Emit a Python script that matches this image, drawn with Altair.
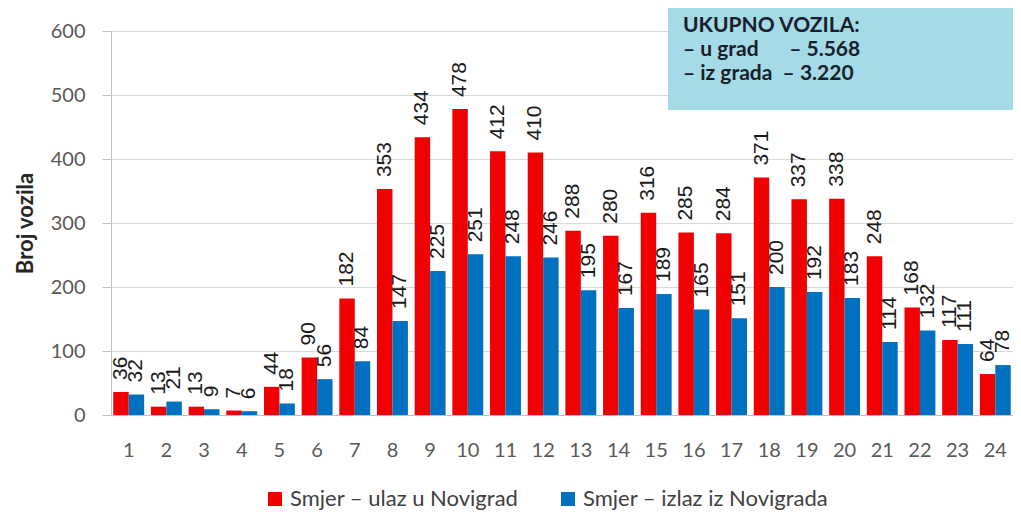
import altair as alt
import pandas as pd

hours = [str(h) for h in range(1, 25)]
ulaz = [36, 13, 13, 7, 44, 90, 182, 353, 434, 478, 412, 410, 288, 280, 316, 285, 284, 371, 337, 338, 248, 168, 117, 64]
izlaz = [32, 21, 9, 6, 18, 56, 84, 147, 225, 251, 248, 246, 195, 167, 189, 165, 151, 200, 192, 183, 114, 132, 111, 78]
series = ["Smjer – ulaz u Novigrad", "Smjer – izlaz iz Novigrada"]
colors = ["#f00000", "#0070c0"]
NB = "\u00a0"
box_text = "UKUPNO VOZILA:\n– u grad" + NB * 6 + "– 5.568\n– iz grada" + NB * 2 + "– 3.220"

rows = []
for h, a, b in zip(hours, ulaz, izlaz):
    rows.append({"Sat": h, "Smjer": series[0], "Vozila": a})
    rows.append({"Sat": h, "Smjer": series[1], "Vozila": b})
df = pd.DataFrame(rows)

x_enc = alt.X("Sat:N", sort=hours, title=None,
              scale=alt.Scale(paddingInner=0.18, paddingOuter=0.06),
              axis=alt.Axis(labelAngle=0, ticks=False, labelPadding=25, labelFont="Lato",
                            labelFontSize=20, labelColor="#595959", domainColor="#bfbfbf",
                            grid=False))
xo_enc = alt.XOffset("Smjer:N", sort=series, scale=alt.Scale(paddingInner=0, paddingOuter=0))
y_enc = alt.Y("Vozila:Q", title="Broj vozila",
              scale=alt.Scale(domain=[0, 600], nice=False),
              axis=alt.Axis(values=[0, 100, 200, 300, 400, 500, 600], labelFont="Lato",
                            labelFontSize=20, labelColor="#595959", tickColor="#bfbfbf",
                            tickSize=9, labelPadding=17, domainColor="#bfbfbf",
                            gridColor="#d9d9d9", titleFont="Lato", titleFontSize=22,
                            titleFontWeight="bold", titleColor="#262626", titlePadding=13))

base = alt.Chart(df)

bars = base.mark_bar().encode(
    x=x_enc, xOffset=xo_enc, y=y_enc,
    color=alt.Color("Smjer:N", sort=series, title=None,
                    scale=alt.Scale(domain=series, range=colors),
                    legend=alt.Legend(orient="none", legendX=153, legendY=457,
                                      direction="horizontal", symbolType="square",
                                      symbolSize=196, symbolStrokeWidth=0,
                                      labelFont="Lato", labelFontSize=22,
                                      labelColor="#404040", columnPadding=38,
                                      labelLimit=400)),
)

labels = base.mark_text(angle=270, align="left", baseline="middle", dx=12,
                        font="Liberation Sans", fontSize=21, color="#1a1a1a").encode(
    x=x_enc, xOffset=xo_enc, y=y_enc, text="Vozila:Q"
)

box_df = pd.DataFrame({"t": [box_text]})
box = alt.Chart(box_df).mark_rect(color="#a5dae7").encode(
    x=alt.value(557), x2=alt.value(907), y=alt.value(-26), y2=alt.value(79)
)
box_label = alt.Chart(box_df).mark_text(
    align="left", baseline="top", lineBreak="\n", lineHeight=24,
    font="Lato", fontSize=21, fontWeight="bold", color="#17202a"
).encode(x=alt.value(572), y=alt.value(-16), text="t:N")

chart = alt.layer(bars, labels, box, box_label).properties(
    width=902, height=384,
    padding={"left": 103, "top": 23, "right": 0, "bottom": 97},
    autosize=alt.AutoSizeParams(type="none"),
).configure_view(strokeWidth=0)

chart.save("out.html", embed_options={"renderer": "svg", "actions": False})
